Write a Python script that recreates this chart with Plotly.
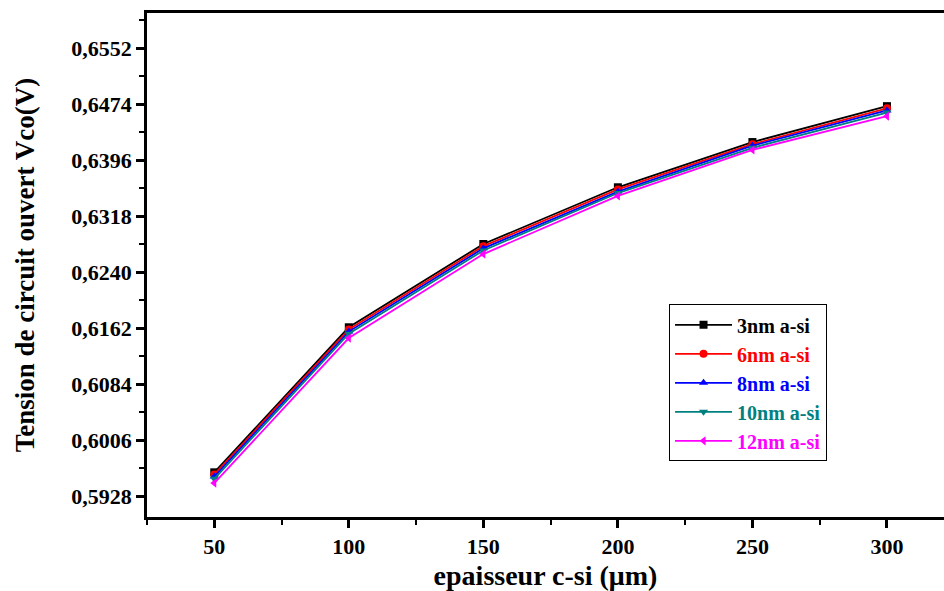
import plotly.graph_objects as go

x_vals = [50, 100, 150, 200, 250, 300]
s3 = [0.5961, 0.6163, 0.6279, 0.6358, 0.6421, 0.6471]
s6 = [0.5958, 0.6160, 0.6276, 0.6355, 0.6418, 0.6468]
s8 = [0.5955, 0.6157, 0.6273, 0.6352, 0.6416, 0.6465]
s10 = [0.5952, 0.6154, 0.6270, 0.6350, 0.6413, 0.6462]
s12 = [0.5946, 0.6148, 0.6265, 0.6346, 0.6410, 0.6457]

names = ["3nm a-si", "6nm a-si", "8nm a-si", "10nm a-si", "12nm a-si"]
colors = ["#000000", "#ff0000", "#0000ff", "#008080", "#ff00ff"]
symbols = ["square", "circle", "triangle-up", "triangle-down", "triangle-left"]
series = [s3, s6, s8, s10, s12]

y_ticks = [0.5928, 0.6006, 0.6084, 0.6162, 0.6240, 0.6318, 0.6396, 0.6474, 0.6552]
y_ticklabels = ["0,5928", "0,6006", "0,6084", "0,6162", "0,6240", "0,6318", "0,6396", "0,6474", "0,6552"]
x_ticks = [50, 100, 150, 200, 250, 300]

fig = go.Figure()
for nm, c, sym, ys in zip(names, colors, symbols, series):
    fig.add_trace(go.Scatter(
        x=x_vals, y=ys, mode="lines+markers",
        name=f"<span style='color:{c}'>{nm}</span>",
        line=dict(color=c, width=1.8),
        marker=dict(symbol=sym, size=8, color=c),
    ))

font_family = "Liberation Serif"
fig.update_layout(
    width=944, height=591,
    margin=dict(l=147, r=0, t=13, b=74),
    plot_bgcolor="white", paper_bgcolor="white",
    font=dict(family=font_family, size=16, color="black"),
    showlegend=True,
    legend=dict(
        x=0.655, y=0.422, xanchor="left", yanchor="top",
        bordercolor="black", borderwidth=1, bgcolor="white",
        font=dict(family=font_family, size=20, color="black", weight="bold"),
        itemwidth=57, tracegroupgap=0,
    ),
    xaxis=dict(
        range=[25, 321.2], tickvals=x_ticks, automargin=False,
        showgrid=False, zeroline=False,
        showline=True, linecolor="black", linewidth=2.5, mirror=True,
        ticks="outside", ticklen=8, tickwidth=2.5, tickcolor="black",
        minor=dict(ticks="outside", ticklen=5, tickwidth=2, tickcolor="black", dtick=25),
        tickfont=dict(family=font_family, size=22, weight="bold"),
        title=dict(text="epaisseur c-si (μm)", font=dict(family=font_family, size=28, weight="bold"), standoff=12),
    ),
    yaxis=dict(
        range=[0.589875, 0.660075], tickvals=y_ticks, ticktext=y_ticklabels, automargin=False,
        showgrid=False, zeroline=False,
        showline=True, linecolor="black", linewidth=2.5, mirror=False,
        ticks="outside", ticklen=8, tickwidth=2.5, tickcolor="black",
        minor=dict(ticks="outside", ticklen=5, tickwidth=2, tickcolor="black",
                   tickvals=[v + 0.0039 for v in y_ticks] + [0.5928 - 0.0039]),
        tickfont=dict(family=font_family, size=22, weight="bold"),
        title=dict(text="Tension de circuit ouvert Vco(V)", font=dict(family=font_family, size=27, weight="bold"), standoff=29),
    ),
)

fig.write_html("out.html")
